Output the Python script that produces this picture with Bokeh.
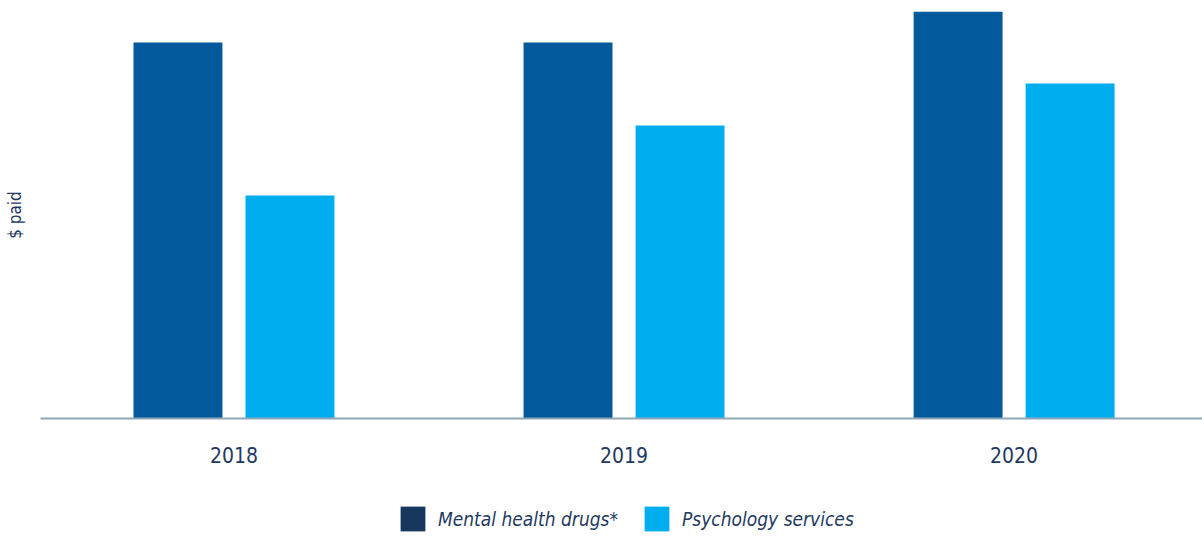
from bokeh.plotting import figure
from bokeh.models import Range1d, Legend, LegendItem, FixedTicker, ColumnDataSource
from bokeh.transform import dodge
from bokeh.layouts import column
from bokeh.embed import file_html
from bokeh.resources import INLINE

years = [2018, 2019, 2020]
year_labels = ["2018", "2019", "2020"]
mental_health_drugs = [376, 376, 407]
psychology_services = [223, 293, 335]
series_labels = ["Mental health drugs*", "Psychology services"]

DARK = "#02599b"
LIGHT = "#00aeef"
LEGEND_DARK = "#17375e"
TEXT = "#1f3a60"
FONT = "'DejaVu Sans Condensed', Roboto, sans-serif"

src = ColumnDataSource(dict(year=years, mhd=mental_health_drugs, psy=psychology_services))

p = figure(width=1202, height=490, output_backend="svg", toolbar_location=None,
           x_range=Range1d(years[0] - 0.496, years[-1] + 0.483),
           y_range=Range1d(0, max(mental_health_drugs)),
           min_border_left=40, min_border_right=0, min_border_top=11, min_border_bottom=72)

p.vbar(x=dodge("year", -0.1436), top="mhd", width=0.228, source=src,
       fill_color=DARK, line_color=None)
p.vbar(x=dodge("year", 0.1436), top="psy", width=0.228, source=src,
       fill_color=LIGHT, line_color=None)

p.xgrid.grid_line_color = None
p.ygrid.grid_line_color = None
p.outline_line_color = None

p.xaxis.ticker = FixedTicker(ticks=years)
p.xaxis.major_label_overrides = {y: l for y, l in zip(years, year_labels)}
p.xaxis.axis_line_color = "#8fa8b8"
p.xaxis.axis_line_width = 2
p.xaxis.major_tick_line_color = None
p.xaxis.minor_tick_line_color = None
p.xaxis.major_label_standoff = 22
p.xaxis.major_label_text_font = FONT
p.xaxis.major_label_text_font_size = "21px"
p.xaxis.major_label_text_color = TEXT

p.yaxis.ticker = FixedTicker(ticks=[])
p.yaxis.axis_line_color = None
p.yaxis.major_tick_line_color = None
p.yaxis.minor_tick_line_color = None
p.yaxis.axis_label = "$ paid"
p.yaxis.axis_label_text_font = FONT
p.yaxis.axis_label_text_font_style = "normal"
p.yaxis.axis_label_text_font_size = "17px"
p.yaxis.axis_label_text_color = TEXT
p.yaxis.axis_label_standoff = 16

# legend strip below the chart (its frame is aligned with the chart's frame)
lg = figure(width=1202, height=48, output_backend="svg", toolbar_location=None,
            x_range=Range1d(years[0] - 0.496, years[-1] + 0.483), y_range=Range1d(0, 1),
            x_axis_type=None, y_axis_type=None, min_border=0)
lg.outline_line_color = None
lg.xgrid.grid_line_color = None
lg.ygrid.grid_line_color = None
# zero-height proxies that only carry the swatch style
r1 = lg.vbar(x="year", top=0, bottom=0, width=0.2, source=src,
             fill_color=LEGEND_DARK, line_color=None)
r2 = lg.vbar(x="year", top=0, bottom=0, width=0.2, source=src,
             fill_color=LIGHT, line_color=None)

legend = Legend(items=[LegendItem(label=series_labels[0], renderers=[r1]),
                       LegendItem(label=series_labels[1], renderers=[r2])],
                orientation="horizontal", location=(357, 4),
                glyph_width=31, glyph_height=31, label_standoff=10, spacing=23,
                label_text_font=FONT, label_text_font_style="italic",
                label_text_font_size="19px", label_text_color=TEXT,
                border_line_color=None, background_fill_alpha=0,
                margin=0, padding=0)
lg.add_layout(legend, "center")

layout = column(p, lg, spacing=0)
open("out.html", "w").write(file_html(layout, INLINE))
